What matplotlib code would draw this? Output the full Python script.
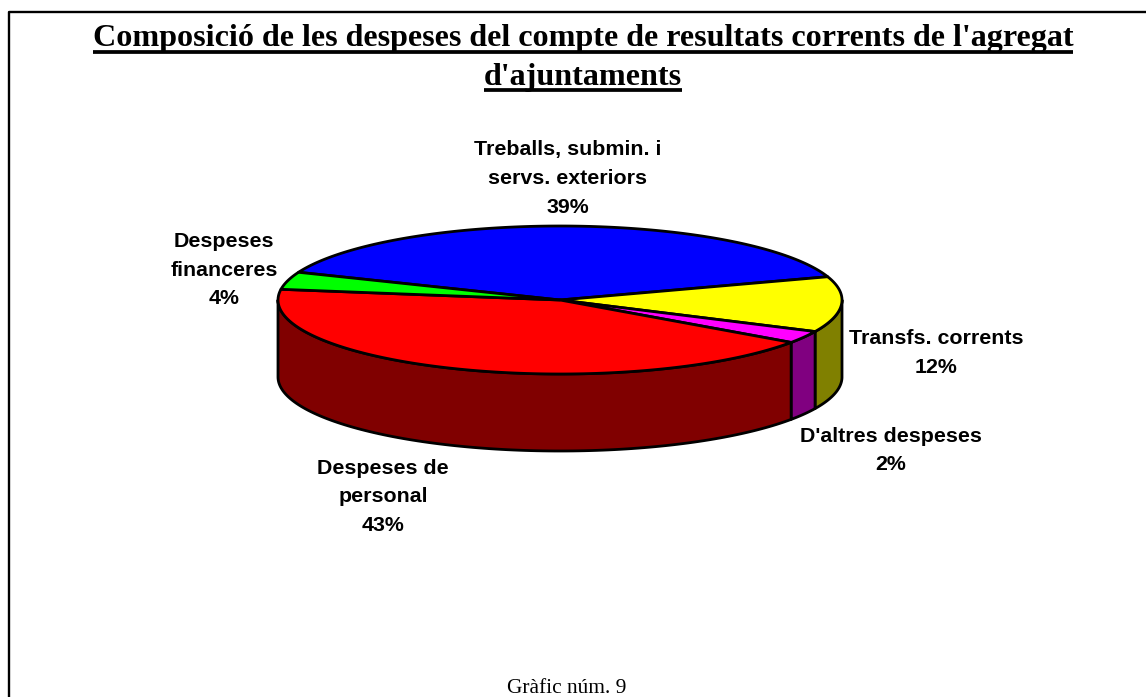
"""Pseudo-3D pie: composition of current expenses, aggregate of town councils."""
import numpy as np
import matplotlib
matplotlib.use("Agg")
import matplotlib.pyplot as plt

TITLE_LINES = ["Composició de les despeses del compte de resultats corrents de l'agregat",
               "d'ajuntaments"]
CAPTION = "Gràfic núm. 9"

# clockwise from the blue slice
CATEGORIES = ["Treballs, submin. i\nservs. exteriors", "Transfs. corrents",
              "D'altres despeses", "Despeses de\npersonal", "Despeses\nfinanceres"]
SHARES = [38.8, 12.1, 2.7, 42.6, 3.8]
PCT_LABELS = ["39%", "12%", "2%", "43%", "4%"]
TOP_COLORS = ["#0000ff", "#ffff00", "#ff00ff", "#ff0000", "#00ff00"]
SIDE_COLORS = ["#000080", "#808000", "#800080", "#800000", "#008000"]
LABEL_POS = [(568, 178.5), (936, 353), (891, 450.5), (383, 497), (224, 270)]

CX, CY, RX, RY, DEPTH = 560, 300, 282, 74, 77
START_DEG = 158

W, H = 1146, 697
fig = plt.figure(figsize=(W / 100, H / 100), dpi=100)
ax = fig.add_axes([0, 0, 1, 1])
ax.set_xlim(0, W)
ax.set_ylim(H, 0)
ax.axis("off")

# frame: left and top only, runs off the picture
ax.plot([8.5, 8.5, W + 5], [H + 5, 12, 12], color="k", lw=1.7)


def rim(a0, a1, n=120):
    t = np.radians(np.linspace(a0, a1, n))
    return CX + RX * np.cos(t), CY - RY * np.sin(t)


edges = START_DEG - np.cumsum([0] + SHARES) / sum(SHARES) * 360

# side walls, only the front half shows
for i, col in enumerate(SIDE_COLORS):
    lo, hi = max(edges[i + 1], -180), min(edges[i], 0)
    if hi <= lo:
        continue
    x, y = rim(hi, lo)
    ax.fill(np.r_[x, x[::-1]], np.r_[y, y[::-1] + DEPTH], fc=col, ec="k", lw=2,
            joinstyle="round", zorder=2)

# top faces
for i, col in enumerate(TOP_COLORS):
    x, y = rim(edges[i], edges[i + 1])
    ax.fill(np.r_[CX, x], np.r_[CY, y], fc=col, ec="k", lw=2, joinstyle="round", zorder=3)

for cat, pct, (lx, ly) in zip(CATEGORIES, PCT_LABELS, LABEL_POS):
    ax.text(lx, ly, f"{cat}\n{pct}", ha="center", va="center", ma="center",
            family="Liberation Sans", weight="bold", fontsize=15.4, linespacing=1.66, zorder=4)

# title, underlined by hand since matplotlib has no underline
renderer = fig.canvas.get_renderer()
for line, base in zip(TITLE_LINES, [46, 84.5]):
    t = ax.text(583, base, line, ha="center", va="baseline", family="Liberation Serif",
                weight="bold", fontsize=23.1)
    bb = t.get_window_extent(renderer)
    ax.plot([bb.x0, bb.x1], [base + 5.5, base + 5.5], color="k", lw=2.7, solid_capstyle="butt")

ax.text(567, 693, CAPTION, ha="center", va="baseline", family="Liberation Serif", fontsize=15.4)

fig.savefig("out.png", dpi=100)
